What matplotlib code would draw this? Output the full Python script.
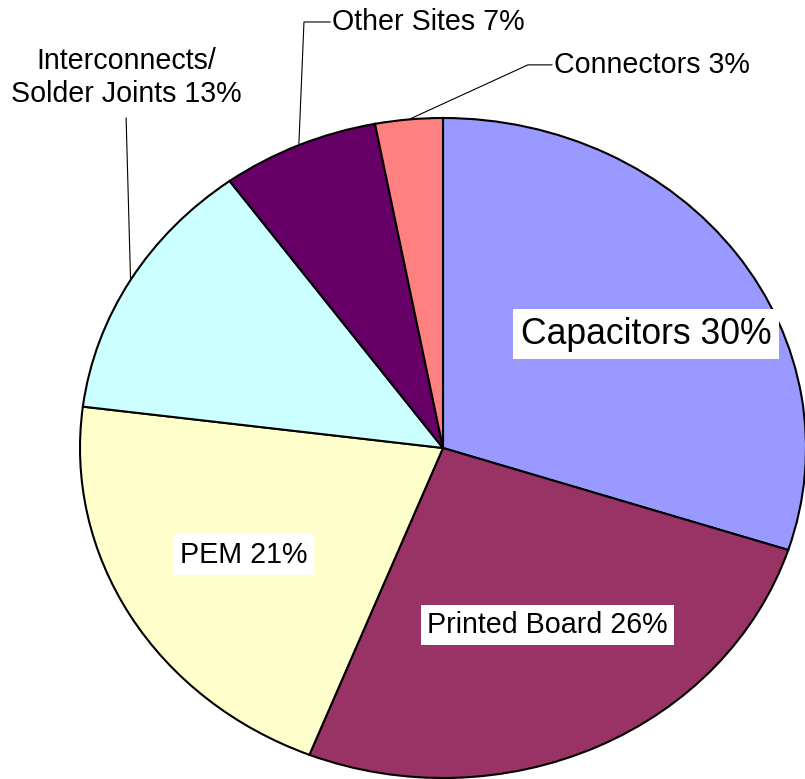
import numpy as np
import matplotlib
matplotlib.use("Agg")
import matplotlib.pyplot as plt

plt.rcParams['font.family'] = ['Liberation Sans', 'DejaVu Sans']

categories = ["Capacitors", "Printed Board", "PEM", "Interconnects/\nSolder Joints",
              "Other Sites", "Connectors"]
values = [30, 26, 21, 13, 7, 3]
colors = ["#9999FF", "#993366", "#FFFFCC", "#CCFFFF", "#660066", "#FF8080"]

W, H = 805, 779
fig = plt.figure(figsize=(W / 100, H / 100), dpi=100)
fig.patch.set_facecolor("white")

# pie bounding box in pixels (slightly wider than tall, as in the reference)
left_px, right_px, top_px, bottom_px = 80, 806, 118, 778
ax = fig.add_axes([left_px / W, (H - bottom_px) / H,
                   (right_px - left_px) / W, (bottom_px - top_px) / H])
wedges, _ = ax.pie(values, colors=colors, startangle=90, counterclock=False,
                   radius=1, center=(0, 0),
                   wedgeprops=dict(edgecolor="black", linewidth=1.5))
for w in wedges:
    w.set_clip_on(False)
ax.set_aspect("auto")
ax.set_xlim(-1, 1)
ax.set_ylim(-1, 1)
ax.axis("off")

def lab(i):
    return f"{categories[i]} {values[i]}%"

# mid angles of wedges
total = sum(values)
cum = np.cumsum([0] + values)
mid_angles = [np.deg2rad(90 - 360 * (cum[i] + values[i] / 2) / total) for i in range(len(values))]

def edge(i):
    a = mid_angles[i]
    return np.cos(a), np.sin(a)

box = dict(boxstyle="square,pad=0.22", facecolor="white", edgecolor="none")
fs = 20.6

ax.text(0.559, 0.345, lab(0), fontsize=25.6, ha="center", va="center", bbox=box)
ax.text(0.288, -0.536, lab(1), fontsize=fs, ha="center", va="center", bbox=box)
ax.text(-0.548, -0.323, lab(2), fontsize=fs, ha="center", va="center", bbox=box)

# outside labels with leader lines
ax.text(-0.873, 1.123, lab(3), fontsize=fs, ha="center", va="center",
        linespacing=1.22, clip_on=False)
ex, ey = edge(3)
ax.plot([-0.873, ex], [1.0, ey], color="black", lw=0.8, clip_on=False)

ax.text(-0.306, 1.291, lab(4), fontsize=fs, ha="left", va="center", clip_on=False)
ex, ey = edge(4)
ax.plot([-0.311, -0.383, ex], [1.291, 1.291, ey], color="black", lw=0.8, clip_on=False)

ax.text(0.306, 1.161, lab(5), fontsize=fs, ha="left", va="center", clip_on=False)
ex, ey = edge(5)
ax.plot([0.300, 0.234, ex], [1.161, 1.161, ey], color="black", lw=0.8, clip_on=False)

fig.savefig("out.png", dpi=100, facecolor="white")
